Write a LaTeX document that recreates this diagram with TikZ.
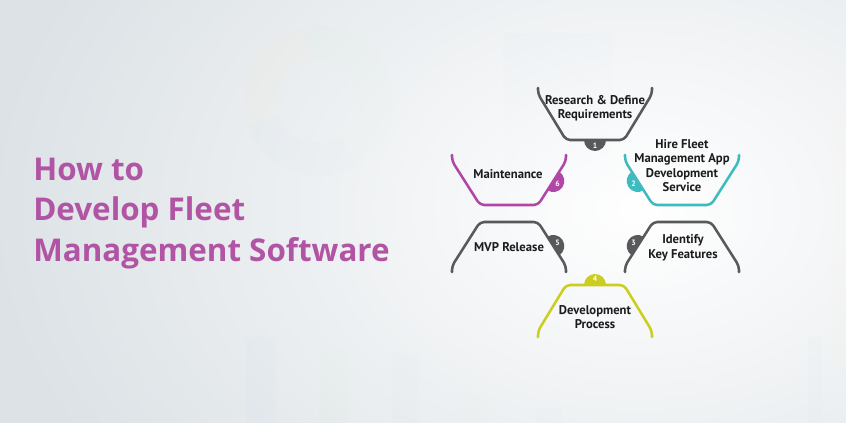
\documentclass[tikz,border=0pt]{standalone}
\usepackage{fontspec}
\setmainfont{PT Sans}
\newfontfamily\titlefont{Open Sans}
\usetikzlibrary{fadings}
\definecolor{bgbase}{RGB}{220,226,230}
\definecolor{ghostblue}{RGB}{200,214,228}
\definecolor{ghostgreen}{RGB}{204,222,210}
\definecolor{ghostyellow}{RGB}{226,224,200}
\definecolor{stepgrey}{RGB}{88,89,91}
\definecolor{stepmagenta}{RGB}{176,70,166}
\definecolor{stepteal}{RGB}{62,187,191}
\definecolor{stepyellow}{RGB}{203,206,32}
\definecolor{titlepink}{RGB}{178,84,164}
\definecolor{labeltext}{RGB}{28,28,30}
\tikzfading[name=glowfade, inner color=transparent!0, outer color=transparent!100]

\begin{document}
\begin{tikzpicture}[
    x=0.025cm, y=0.025cm,
    stepline/.style={line width=1.8pt, rounded corners=3pt, line cap=round, line join=round},
    lbl/.style={font=\bfseries\fontsize{9}{10.3}\selectfont, align=center, text=labeltext, inner sep=0pt},
    tagnum/.style={font=\bfseries\fontsize{5.5}{6}\selectfont, text=white, inner sep=0pt},
    headline/.style={font=\titlefont\bfseries\fontsize{22.3}{26}\selectfont, text=titlepink, anchor=base west, inner sep=0pt},
    ghost/.style={opacity=0.22}
]
\useasboundingbox (0,0) rectangle (846,423);
% background
\begin{scope}
\clip (0,0) rectangle (846,423);
\fill[bgbase] (0,0) rectangle (846,423);
\fill[ghostgreen, ghost] (318,322) ++(100:75) arc[start angle=100, end angle=-60, radius=75]
    -- ([shift={(-60:42)}]318,322) arc[start angle=-60, end angle=100, radius=42] -- cycle;
\fill[ghostyellow, ghost] (318,322) ++(100:75) arc[start angle=100, end angle=200, radius=75]
    -- ([shift={(200:42)}]318,322) arc[start angle=200, end angle=100, radius=42] -- cycle;
\fill[ghostblue, ghost] (318,322) ++(200:75) arc[start angle=200, end angle=300, radius=75]
    -- ([shift={(300:42)}]318,322) arc[start angle=300, end angle=200, radius=42] -- cycle;
\fill[ghostblue, ghost] (246,0) rectangle (276,86);
\fill[ghostgreen, ghost] (319,0) rectangle (349,76);
\fill[ghostblue, ghost] (392,0) rectangle (419,70);
\fill[ghostgreen, ghost] (462,0) rectangle (489,30);
\fill[ghostblue, ghost] (535,0) rectangle (562,15);
\fill[ghostblue, ghost] (808,0) rectangle (822,86);
\fill[ghostblue, ghost] (503,233) rectangle (613,390);
\fill[ghostyellow, ghost] (832,60) rectangle (846,313);
\fill[white, path fading=glowfade] (640,215) ellipse[x radius=660, y radius=470];
\end{scope}

% title
\node[headline] (howto) at (33,243) {How to};
\node[headline] (develop) at (33,203) {Develop Fleet};
\node[headline] (manage) at (33,162) {Management Software};

% step 1
\draw[stepline, stepgrey] (538,335) -- (538,329) -- (566,283) -- (624,283) -- (652,329) -- (652,335);
\fill[stepgrey] (595,283) ++(180:11) arc[start angle=180, end angle=360, radius=11] -- cycle;
\node[tagnum] (t1) at (595,277) {1};
\node[lbl] (s1) at (595,315) {Research \& Define\\Requirements};

% step 2
\draw[stepline, stepteal] (625,268) -- (625,262) -- (653,218) -- (711,218) -- (739,262) -- (739,268);
\fill[stepteal] (637.7,242) ++(122.5:11) arc[start angle=122.5, end angle=302.5, radius=11] -- cycle;
\node[tagnum] (t2) at (633.5,239.3) {2};
\node[lbl] (s2) at (682,257.5) {Hire Fleet\\Management App\\Development\\Service};

% step 3
\draw[stepline, stepgrey] (625,151) -- (625,157) -- (653,201) -- (711,201) -- (739,157) -- (739,151);
\fill[stepgrey] (637.7,177) ++(57.5:11) arc[start angle=57.5, end angle=237.5, radius=11] -- cycle;
\node[tagnum] (t3) at (633.5,179.7) {3};
\node[lbl] (s3) at (683,175) {Identify\\Key Features};

% step 4
\draw[stepline, stepyellow] (538,86) -- (538,92) -- (566,138) -- (624,138) -- (652,92) -- (652,86);
\fill[stepyellow] (595,138) ++(0:11) arc[start angle=0, end angle=180, radius=11] -- cycle;
\node[tagnum] (t4) at (595,144) {4};
\node[lbl] (s4) at (595,106) {Development\\Process};

% step 5
\draw[stepline, stepgrey] (452,151) -- (452,157) -- (480,201) -- (538,201) -- (566,157) -- (566,151);
\fill[stepgrey] (553.3,177) ++(-57.5:11) arc[start angle=-57.5, end angle=122.5, radius=11] -- cycle;
\node[tagnum] (t5) at (557.5,179.7) {5};
\node[lbl] (s5) at (509,176) {MVP Release};

% step 6
\draw[stepline, stepmagenta] (452,268) -- (452,262) -- (480,218) -- (538,218) -- (566,262) -- (566,268);
\fill[stepmagenta] (553.3,242) ++(57.5:11) arc[start angle=57.5, end angle=-122.5, radius=11] -- cycle;
\node[tagnum] (t6) at (557.5,239.3) {6};
\node[lbl] (s6) at (508,249) {Maintenance};
\end{tikzpicture}
\end{document}
